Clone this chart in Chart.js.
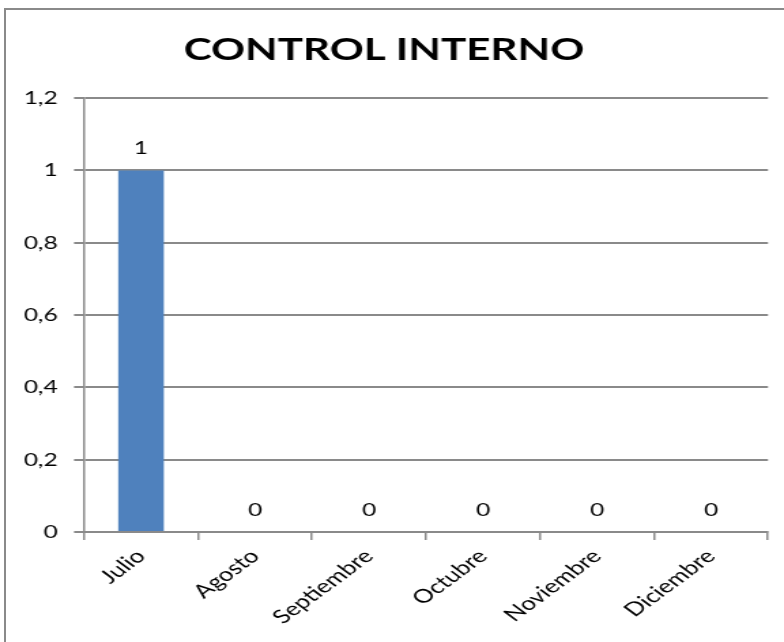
<!DOCTYPE html>
<html>
<head>
<meta charset="utf-8">
<script src="https://cdn.jsdelivr.net/npm/chart.js@4.4.0/dist/chart.umd.min.js"></script>
<style>
  body { margin: 0; background: #fff; }
  #marco { position: absolute; left: 4px; top: 8px; width: 790px; height: 650px;
           border-left: 2px solid #8a8a8a; border-top: 2px solid #8a8a8a; }
  /* el grafico original esta estirado a lo ancho */
  #lienzo { position: absolute; left: 0; top: 0; }
</style>
</head>
<body>
<div id="marco"></div>
<canvas id="lienzo" width="576" height="642" style="width:784px;height:642px"></canvas>
<script>
// datos del grafico
var meses = ['Julio', 'Agosto', 'Septiembre', 'Octubre', 'Noviembre', 'Diciembre'];
var valores = [1, 0, 0, 0, 0, 0];
var ticksY = [0, 0.2, 0.4, 0.6, 0.8, 1, 1.2];

var fuente = "Lato, 'Liberation Sans', sans-serif";
var estiro = 784 / 576;

function conComa(v) {
  return Number(v.toFixed(1)).toString().replace('.', ',');
}

// etiquetas encima de cada barra
var etiquetasBarras = {
  id: 'etiquetasBarras',
  afterDatasetsDraw: function(chart) {
    var ctx = chart.ctx;
    var meta = chart.getDatasetMeta(0);
    ctx.save();
    ctx.fillStyle = '#000';
    ctx.font = '18px ' + fuente;
    ctx.textAlign = 'center';
    ctx.textBaseline = 'middle';
    meta.data.forEach(function(barra, i) {
      ctx.fillText(conComa(valores[i]), barra.x, barra.y - 22);
    });
    ctx.restore();
  }
};

new Chart(document.getElementById('lienzo'), {
  type: 'bar',
  data: {
    labels: meses,
    datasets: [{
      label: 'Control interno',
      data: valores,
      backgroundColor: '#4f81bd',
      barPercentage: 0.4,
      categoryPercentage: 1
    }]
  },
  options: {
    responsive: false,
    animation: false,
    layout: { padding: { left: 0, right: 16 / estiro, top: 0, bottom: 0 } },
    plugins: {
      legend: { display: false },
      tooltip: { enabled: false },
      title: {
        display: true,
        text: 'CONTROL INTERNO',
        color: '#000',
        font: { family: fuente, size: 31, weight: 'bold' },
        padding: { top: 31, bottom: 30 }
      }
    },
    scales: {
      y: {
        min: 0,
        max: 1.2,
        afterFit: function(scale) { scale.width = 84 / estiro; },
        afterBuildTicks: function(scale) {
          scale.ticks = ticksY.map(function(v) { return { value: v }; });
        },
        border: { color: '#8a8a8a', width: 1.5 },
        grid: { color: '#8a8a8a', lineWidth: 2, tickLength: 10 / estiro },
        ticks: {
          color: '#000',
          padding: 12,
          font: { family: fuente, size: 18 },
          callback: function(v) { return conComa(v); }
        }
      },
      x: {
        afterFit: function(scale) { scale.height = 110; },
        border: { color: '#8a8a8a', width: 2 },
        grid: { color: '#8a8a8a', lineWidth: 1.5, drawOnChartArea: false, tickLength: 8, offset: true },
        ticks: {
          color: '#000',
          minRotation: 45,
          maxRotation: 45,
          padding: 5,
          font: { family: fuente, size: 19 }
        }
      }
    }
  },
  plugins: [etiquetasBarras]
});
</script>
</body>
</html>
